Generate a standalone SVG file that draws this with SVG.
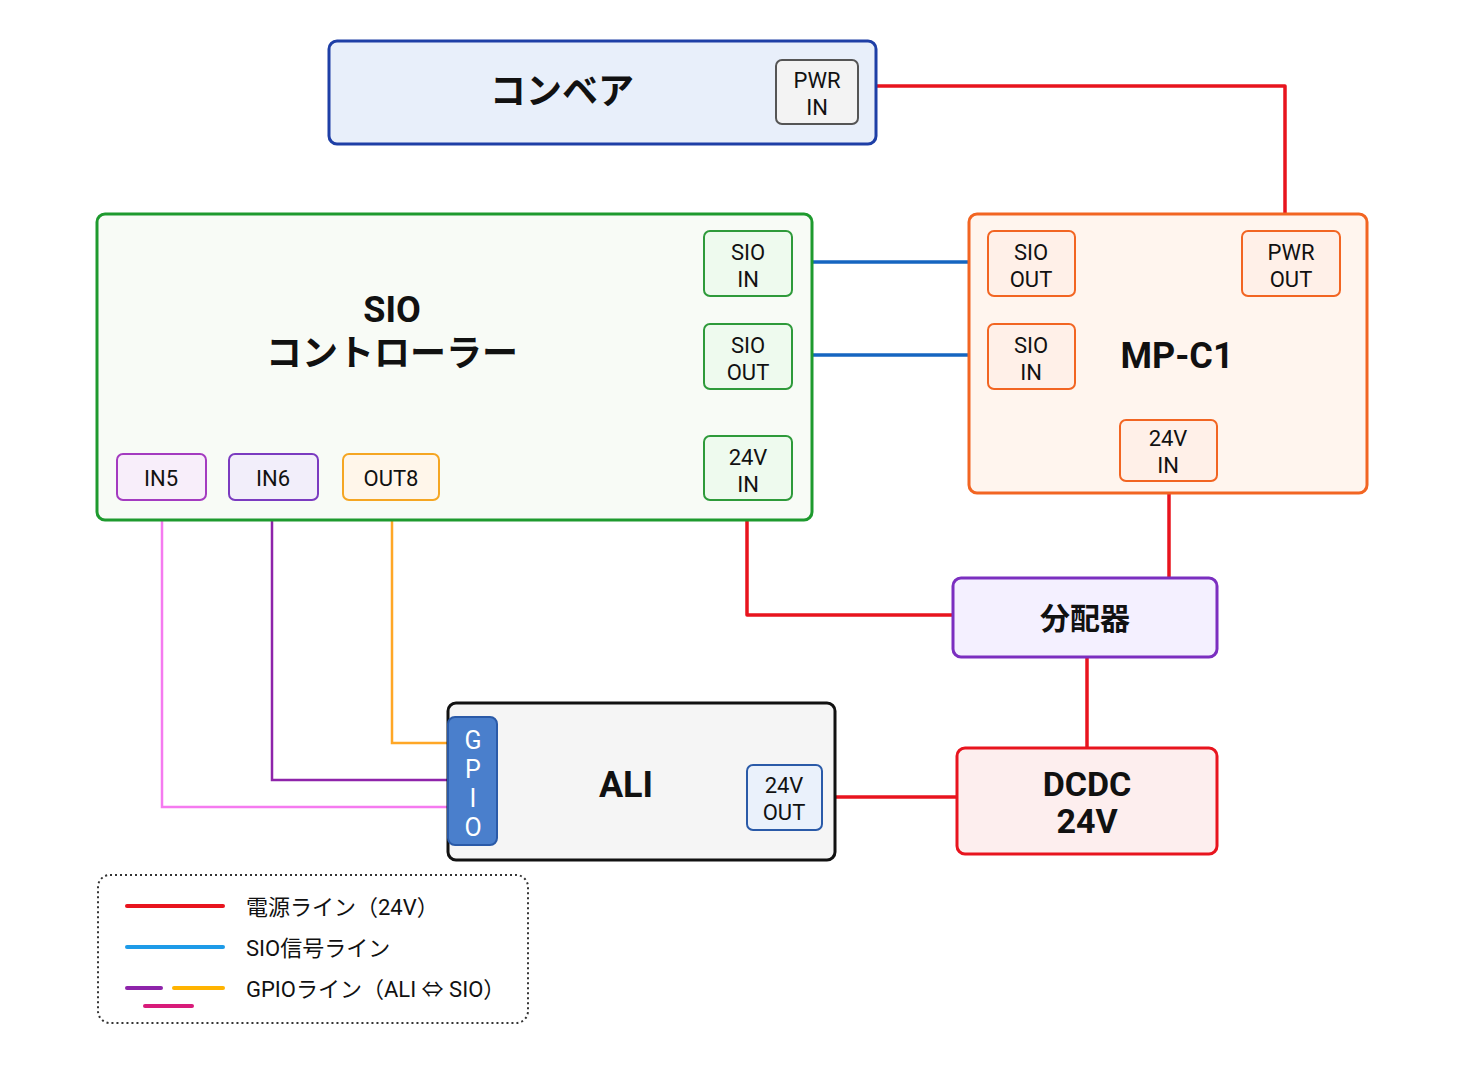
<svg xmlns="http://www.w3.org/2000/svg" width="1463" height="1075" viewBox="0 0 1463 1075">
<style>
text{font-family:"Roboto","Noto Sans CJK JP","Noto Sans",sans-serif;fill:#111;text-anchor:middle}
.t{font-size:36px;font-weight:bold}
.p{font-size:22px}
.w{fill:none;stroke-width:3.5;stroke-linejoin:round}
.port{stroke-width:2;rx:6}
</style>
<rect width="1463" height="1075" fill="#fff"/>
<g id="connectors">
<path class="w" stroke="#e8141e" d="M877 86H1285V232"/>
<path class="w" stroke="#e8141e" d="M747 500V615H953"/>
<path class="w" stroke="#e8141e" d="M1169 481V578"/>
<path class="w" stroke="#e8141e" d="M1087 657V748"/>
<path class="w" stroke="#e8141e" d="M822 797H957"/>
<path class="w" stroke="#1565c0" d="M792 262H988"/>
<path class="w" stroke="#1565c0" d="M792 355H988"/>
<path fill="none" stroke-width="2.5" stroke="#f57af0" d="M162 500V807H448"/>
<path fill="none" stroke-width="2.5" stroke="#8e24aa" d="M272 500V780H448"/>
<path fill="none" stroke-width="2.5" stroke="#ffa726" d="M392 500V743H448"/>
</g>
<g id="conveyor">
<rect x="329" y="41" width="547" height="103" rx="8" fill="#e8effa" stroke="#1e3fa6" stroke-width="3"/>
<text class="t" x="562" y="104">コンベア</text>
<rect class="port" x="776" y="60" width="82" height="64" fill="#f3f3f3" stroke="#555"/>
<text class="p" x="817" y="88">PWR</text><text class="p" x="817" y="115">IN</text>
</g>
<g id="sio">
<rect x="97" y="214" width="715" height="306" rx="8" fill="#f8fbf6" stroke="#1e9a2e" stroke-width="3"/>
<text class="t" x="392" y="322">SIO</text>
<text class="t" x="392" y="366">コントローラー</text>
<rect class="port" x="704" y="231" width="88" height="65" fill="#eefaee" stroke="#2e9a3a"/>
<text class="p" x="748" y="260">SIO</text><text class="p" x="748" y="287">IN</text>
<rect class="port" x="704" y="324" width="88" height="65" fill="#eefaee" stroke="#2e9a3a"/>
<text class="p" x="748" y="353">SIO</text><text class="p" x="748" y="380">OUT</text>
<rect class="port" x="704" y="436" width="88" height="64" fill="#eefaee" stroke="#2e9a3a"/>
<text class="p" x="748" y="465">24V</text><text class="p" x="748" y="492">IN</text>
<rect class="port" x="117" y="454" width="89" height="46" fill="#f8eefa" stroke="#a43bc0"/>
<text class="p" x="161" y="486">IN5</text>
<rect class="port" x="229" y="454" width="89" height="46" fill="#f2eefa" stroke="#7b3bc0"/>
<text class="p" x="273" y="486">IN6</text>
<rect class="port" x="343" y="454" width="96" height="46" fill="#fff6ea" stroke="#f5a623"/>
<text class="p" x="391" y="486">OUT8</text>
</g>
<g id="mpc1">
<rect x="969" y="214" width="398" height="279" rx="8" fill="#fff5ee" stroke="#f26522" stroke-width="3"/>
<text class="t" x="1177" y="368">MP-C1</text>
<rect class="port" x="988" y="231" width="87" height="65" fill="#fff0e8" stroke="#f26522"/>
<text class="p" x="1031" y="260">SIO</text><text class="p" x="1031" y="287">OUT</text>
<rect class="port" x="988" y="324" width="87" height="65" fill="#fff0e8" stroke="#f26522"/>
<text class="p" x="1031" y="353">SIO</text><text class="p" x="1031" y="380">IN</text>
<rect class="port" x="1242" y="231" width="98" height="65" fill="#fff0e8" stroke="#f26522"/>
<text class="p" x="1291" y="260">PWR</text><text class="p" x="1291" y="287">OUT</text>
<rect class="port" x="1120" y="420" width="97" height="61" fill="#fff0e8" stroke="#f26522"/>
<text class="p" x="1168" y="446">24V</text><text class="p" x="1168" y="473">IN</text>
</g>
<g id="distributor">
<rect x="953" y="578" width="264" height="79" rx="8" fill="#f4f0ff" stroke="#7b2fc0" stroke-width="3"/>
<text class="t" x="1085" y="629" style="font-size:30px">分配器</text>
</g>
<g id="dcdc">
<rect x="957" y="748" width="260" height="106" rx="8" fill="#fdeeee" stroke="#e8141e" stroke-width="3"/>
<text class="t" x="1087" y="796" style="font-size:34px">DCDC</text>
<text class="t" x="1087" y="833" style="font-size:34px">24V</text>
</g>
<g id="ali">
<rect x="448" y="703" width="387" height="157" rx="8" fill="#f5f5f5" stroke="#111" stroke-width="3"/>
<text class="t" x="626" y="797">ALI</text>
<rect x="448" y="717" width="49" height="128" rx="7" fill="#4a7fcc" stroke="#2a5aa8" stroke-width="2"/>
<g style="font-size:25px"><text class="p" x="473" y="749" style="fill:#fff;font-size:25px">G</text><text x="473" y="778" style="fill:#fff;font-size:25px">P</text><text x="473" y="807" style="fill:#fff;font-size:25px">I</text><text x="473" y="836" style="fill:#fff;font-size:25px">O</text></g>
<rect class="port" x="747" y="765" width="75" height="65" fill="#eaf1fb" stroke="#2a5aa8"/>
<text class="p" x="784" y="793">24V</text><text class="p" x="784" y="820">OUT</text>
</g>
<g id="legend">
<rect x="98" y="875" width="430" height="148" rx="12" fill="#fff" stroke="#333" stroke-width="2" stroke-dasharray="2 3"/>
<g stroke-width="4" stroke-linecap="round">
<line x1="127" y1="906" x2="223" y2="906" stroke="#e8141e"/>
<line x1="127" y1="947" x2="223" y2="947" stroke="#1e9be8"/>
<line x1="127" y1="988" x2="161" y2="988" stroke="#8e24aa"/>
<line x1="174" y1="988" x2="223" y2="988" stroke="#ffb300"/>
<line x1="145" y1="1006" x2="192" y2="1006" stroke="#d81b7a"/>
</g>
<g style="text-anchor:start;font-size:22px">
<text x="246" y="915" style="text-anchor:start;font-size:22px">電源ライン（24V）</text>
<text x="246" y="956" style="text-anchor:start;font-size:22px">SIO信号ライン</text>
<text x="246" y="997" style="text-anchor:start;font-size:22px">GPIOライン（ALI ⇔ SIO）</text>
</g>
</g>
</svg>
